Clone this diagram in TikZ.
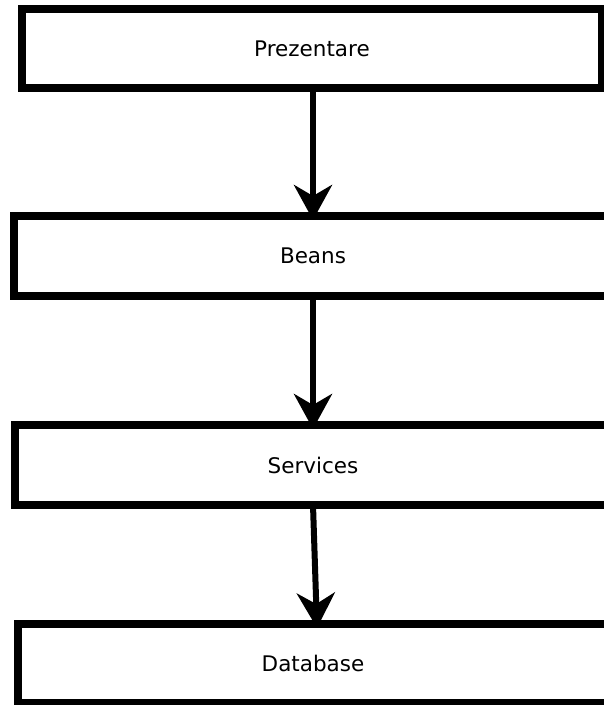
\documentclass[tikz,border=0pt]{standalone}
\usepackage{fontspec}
\setmainfont{DejaVu Sans}
\usetikzlibrary{arrows.meta}

\tikzset{
  layer/.style={draw=black, line width=8bp, rectangle, inner sep=0pt, outer sep=0pt,
    font=\fontsize{21.5bp}{26bp}\selectfont},
  flow/.style={draw=black, line width=6bp,
    -{Stealth[length=35bp, width=38bp, inset=11bp]}}
}

\begin{document}
\begin{tikzpicture}[x=1bp, y=-1bp]
  \useasboundingbox (0,0) rectangle (604,705);
  \clip (0,0) rectangle (604,705);

  % stacked layers, each wider than the page except the top one
  \node[layer, minimum width=580bp, minimum height=79bp] (pres) at (312,48.5) {Prezentare};
  \node[layer, minimum width=598bp, minimum height=80bp] (beans) at (313,256) {Beans};
  \node[layer, minimum width=596bp, minimum height=80bp] (serv) at (313,465) {Services};
  \node[layer, minimum width=590bp, minimum height=79bp] (db) at (313,663.5) {Database};

  % downward dependencies
  \draw[flow] ([xshift=1bp]pres.south) -- ([yshift=-4bp]beans.north);
  \draw[flow] (beans.south) -- ([yshift=-4bp]serv.north);
  \draw[flow] (serv.south) -- ([xshift=4bp,yshift=-4bp]db.north);
\end{tikzpicture}
\end{document}
